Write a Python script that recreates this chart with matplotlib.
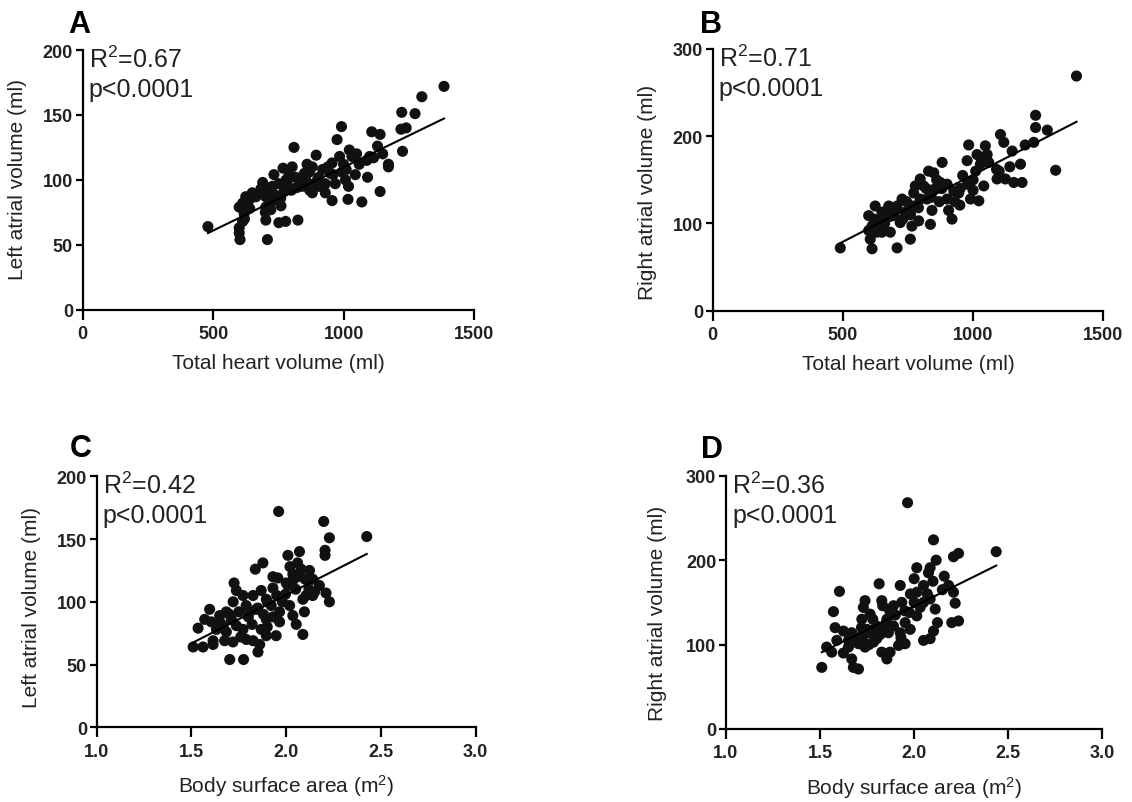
import numpy as np
import matplotlib
matplotlib.use("Agg")
import matplotlib.pyplot as plt

plt.rcParams['font.family'] = ['Liberation Sans', 'DejaVu Sans']
plt.rcParams['mathtext.fontset'] = 'custom'
plt.rcParams['mathtext.rm'] = 'Liberation Sans'
plt.rcParams['mathtext.it'] = 'Liberation Sans:italic'
plt.rcParams['mathtext.bf'] = 'Liberation Sans:bold'

# Panel A: total heart volume vs left atrial volume
a_x = [480, 1385, 1300, 1223, 1274, 1220, 1226, 1172, 1172, 1140, 1108, 1140, 1130, 1115, 1089,
       1092, 1070, 1017, 956, 992, 975, 1022, 1032, 1045, 1007, 994, 956, 950, 930, 930, 895, 880,
       869, 867, 880, 841, 829, 810, 803, 768, 752, 733, 727, 702, 683, 664, 702, 721, 702, 752,
       778, 825, 708, 625, 613, 600, 619, 613, 600, 600, 603, 759, 772, 784, 816, 854, 905, 905,
       968, 1019, 1000, 985, 920, 860, 790, 740, 690, 650, 640, 1060, 1100, 1010, 940, 850, 870,
       760, 730, 710, 820, 960, 1050, 1150, 620, 640, 700, 780, 800, 900, 1240]
a_y = [64, 172, 164, 152, 151, 139, 122, 112, 110, 91, 137, 135, 126, 117, 115,
       102, 83, 85, 84, 141, 131, 123, 118, 104, 100, 106, 113, 105, 97, 90, 119, 110,
       106, 97, 90, 95, 100, 125, 110, 109, 97, 104, 95, 87, 93, 87, 79, 77, 69, 67,
       68, 69, 54, 87, 82, 79, 74, 68, 63, 59, 54, 86, 91, 97, 102, 101, 102, 95,
       97, 95, 112, 118, 108, 112, 103, 88, 98, 90, 85, 112, 118, 108, 110, 105, 92,
       80, 84, 92, 94, 104, 120, 120, 70, 78, 75, 100, 92, 100, 140]

# Panel B: total heart volume vs right atrial volume
b_x = [490, 1397, 1317, 1240, 1240, 1285, 1233, 1105, 1118, 1150, 1182, 1141, 1188, 1156, 1124,
       1092, 1090, 1047, 1054, 1015, 983, 977, 1028, 1041, 1022, 990, 949, 977, 945, 926, 906,
       919, 900, 881, 849, 829, 874, 849, 823, 842, 836, 778, 772, 797, 772, 753, 791, 765, 759,
       708, 727, 708, 676, 695, 720, 740, 682, 650, 624, 599, 612, 599, 605, 612, 631, 644, 650,
       797, 810, 860, 880, 950, 1000, 1010, 960, 900, 840, 790, 760, 730, 700, 660, 620, 1060,
       1030, 820, 870, 930, 1000, 745, 680, 640, 1100, 1200]
b_y = [72, 269, 161, 224, 210, 207, 193, 202, 193, 183, 168, 165, 147, 147, 151,
       151, 162, 189, 179, 179, 190, 172, 168, 143, 126, 128, 121, 145, 135, 137, 115,
       105, 128, 170, 158, 160, 147, 139, 128, 115, 99, 143, 135, 128, 120, 111, 103, 97, 82,
       72, 128, 120, 120, 109, 101, 113, 90, 90, 120, 109, 97, 92, 82, 71, 90, 103, 113,
       151, 143, 150, 140, 140, 150, 160, 155, 145, 130, 118, 110, 105, 115, 100, 105, 170,
       175, 140, 125, 125, 138, 125, 108, 95, 160, 190]

# Panel C: body surface area vs left atrial volume
c_x = [1.96, 2.198, 2.228, 2.425, 2.205, 2.205, 2.07, 2.009, 1.877, 1.837, 2.06, 2.079, 1.956,
       2.035, 2.123, 2.14, 2.035, 2.009, 2.175, 2.21, 2.228, 2.14, 2.105, 2.088, 1.996, 1.93,
       1.868, 1.825, 1.725, 1.737, 1.772, 1.789, 1.807, 1.842, 1.895, 1.921, 1.965, 1.93, 1.965,
       2.018, 2.035, 2.053, 2.096, 2.088, 1.895, 1.868, 1.895, 1.947, 1.86, 1.851, 1.825, 1.789,
       1.772, 1.737, 1.711, 1.684, 1.649, 1.667, 1.684, 1.719, 1.675, 1.632, 1.605, 1.596, 1.57,
       1.535, 1.614, 1.614, 1.561, 1.509, 1.702, 1.775, 1.9, 1.95, 2.0, 2.05, 2.1, 2.12, 1.85,
       1.8, 1.75, 1.7, 1.65, 1.88, 1.98, 2.06, 1.93, 1.82, 1.76, 2.02, 2.15, 1.72, 1.9]
c_y = [172, 164, 151, 152, 141, 137, 140, 137, 131, 126, 131, 126, 119,
       122, 125, 118, 117, 113, 113, 107, 100, 105, 105, 102, 106, 111,
       109, 105, 115, 109, 105, 97, 92, 94, 102, 97, 92, 88, 84,
       97, 89, 82, 92, 74, 86, 78, 73, 73, 66, 60, 69, 70,
       78, 81, 86, 92, 89, 81, 76, 68, 69, 78, 84, 94, 86,
       79, 69, 66, 64, 64, 54, 54, 100, 105, 115, 110, 118, 110, 95,
       88, 92, 90, 84, 90, 100, 120, 120, 82, 72, 128, 108, 100, 80]

# Panel D: body surface area vs right atrial volume
d_x = [1.965, 2.103, 2.436, 2.209, 2.236, 2.117, 2.16, 2.014, 2.085, 2.076, 2.0, 1.926, 1.814,
       1.603, 1.571, 1.58, 1.624, 1.739, 1.73, 1.766, 1.722, 1.828, 1.833, 1.89, 1.934, 1.975,
       1.952, 2.032, 2.085, 2.112, 2.183, 2.209, 2.218, 2.2, 2.236, 2.124, 2.103, 2.085, 2.05,
       2.014, 1.979, 1.926, 1.952, 1.917, 1.863, 1.855, 1.819, 1.801, 1.766, 1.73, 1.704, 1.739,
       1.784, 1.828, 1.872, 1.855, 1.668, 1.651, 1.624, 1.651, 1.668, 1.677, 1.704, 1.535, 1.562,
       1.509, 1.589, 1.89, 2.014, 2.05, 2.07, 2.0, 1.95, 1.9, 1.85, 1.8, 1.75, 1.7, 2.1, 2.05,
       1.98, 1.87, 1.78, 1.72, 2.15, 1.93, 1.82, 1.76]
d_y = [268, 224, 210, 204, 208, 200, 181, 191, 191, 185, 178, 170, 172,
       163, 139, 120, 116, 152, 144, 136, 130, 152, 146, 146, 150, 138,
       126, 144, 154, 142, 170, 162, 149, 126, 128, 126, 116, 107, 105,
       134, 118, 114, 101, 99, 114, 130, 118, 107, 114, 110, 101, 97,
       103, 91, 91, 83, 114, 105, 90, 97, 83, 73, 71, 97, 91,
       73, 105, 122, 162, 170, 160, 150, 140, 135, 125, 122, 118, 108, 175, 150,
       160, 140, 130, 120, 165, 108, 112, 100]

# linear fits: (slope, intercept)
fits = {'A': (0.0975, 12.2), 'B': (0.1533, 2.4), 'C': (77.0, -48.6), 'D': (110.6, -75.9)}
r2_vals = {'A': '0.67', 'B': '0.71', 'C': '0.42', 'D': '0.36'}
p_vals = {'A': '<0.0001', 'B': '<0.0001', 'C': '<0.0001', 'D': '<0.0001'}

W, H = 1132, 803
fig = plt.figure(figsize=(W / 100, H / 100), dpi=100)

# letter, x, y, axes rect (px: left, top, right, bottom), xlim, xticks, ylim, yticks, labels,
# ylabel position (px: right edge x, centre y), letter position (px)
panels = [
    ('A', a_x, a_y, (82.7, 51, 474, 310.7), (0, 1500), [0, 500, 1000, 1500], (0, 200),
     [0, 50, 100, 150, 200], 'Total heart volume (ml)', 'Left atrial volume (ml)', (27, 179), (79, 33)),
    ('B', b_x, b_y, (712.7, 50, 1103.3, 311.7), (0, 1500), [0, 500, 1000, 1500], (0, 300),
     [0, 100, 200, 300], 'Total heart volume (ml)', 'Right atrial volume (ml)', (657, 192), (711, 33)),
    ('C', c_x, c_y, (96.7, 477.3, 475.7, 728.3), (1.0, 3.0), [1.0, 1.5, 2.0, 2.5, 3.0], (0, 200),
     [0, 50, 100, 150, 200], 'Body surface area (m$^2$)', 'Left atrial volume (ml)', (41, 607), (81, 457)),
    ('D', d_x, d_y, (726, 476.7, 1102.3, 730), (1.0, 3.0), [1.0, 1.5, 2.0, 2.5, 3.0], (0, 300),
     [0, 100, 200, 300], 'Body surface area (m$^2$)', 'Right atrial volume (ml)', (667, 613), (712, 458)),
]

for (letter, xs, ys, px, xlim, xticks, ylim, yticks, xlabel, ylabel, ylab_pos, let_pos) in panels:
    l, t, r, b = px
    ax = fig.add_axes([l / W, 1 - b / H, (r - l) / W, (b - t) / H])
    ax.scatter(xs, ys, s=64, color='#111111', edgecolors='none', zorder=3, clip_on=False)
    slope, icpt = fits[letter]
    lx = np.array([min(xs), max(xs)])
    ax.plot(lx, slope * lx + icpt, color='black', lw=1.5, zorder=4)

    ax.set_xlim(*xlim)
    ax.set_ylim(*ylim)
    ax.set_xticks(xticks)
    ax.set_yticks(yticks)
    if xlim[0] == 1.0:
        ax.set_xticklabels([f'{v:.1f}' for v in xticks])
    for side in ('top', 'right'):
        ax.spines[side].set_visible(False)
    for side in ('left', 'bottom'):
        ax.spines[side].set_linewidth(1.6)
    ax.tick_params(axis='x', direction='out', length=7, width=1.6, labelsize=13, pad=4)
    ax.tick_params(axis='y', direction='out', length=5, width=1.6, labelsize=13, pad=2)
    for lab in ax.get_xticklabels() + ax.get_yticklabels():
        lab.set_fontweight('bold')
        lab.set_color('#222222')

    pad_x = 8 if xlim[0] == 0 else 9
    ax.set_xlabel(xlabel, fontsize=15, color='#222222', labelpad=pad_x)
    ax.set_ylabel(ylabel, fontsize=15, color='#222222')
    ax.yaxis.set_label_coords((ylab_pos[0] - l) / (r - l), (b - ylab_pos[1]) / (b - t))

    ax.annotate(f'R$^2$={r2_vals[letter]}', xy=(0, 1), xycoords='axes fraction',
                xytext=(6, -17), textcoords='offset pixels', ha='left', va='baseline',
                fontsize=18, color='#222222')
    ax.annotate(f'p{p_vals[letter]}', xy=(0, 1), xycoords='axes fraction',
                xytext=(6, -46), textcoords='offset pixels', ha='left', va='baseline',
                fontsize=18, color='#222222')
    fig.text(let_pos[0] / W, 1 - let_pos[1] / H, letter, ha='center', va='baseline',
             fontsize=22, fontweight='bold')

fig.savefig('out.png', dpi=100)
